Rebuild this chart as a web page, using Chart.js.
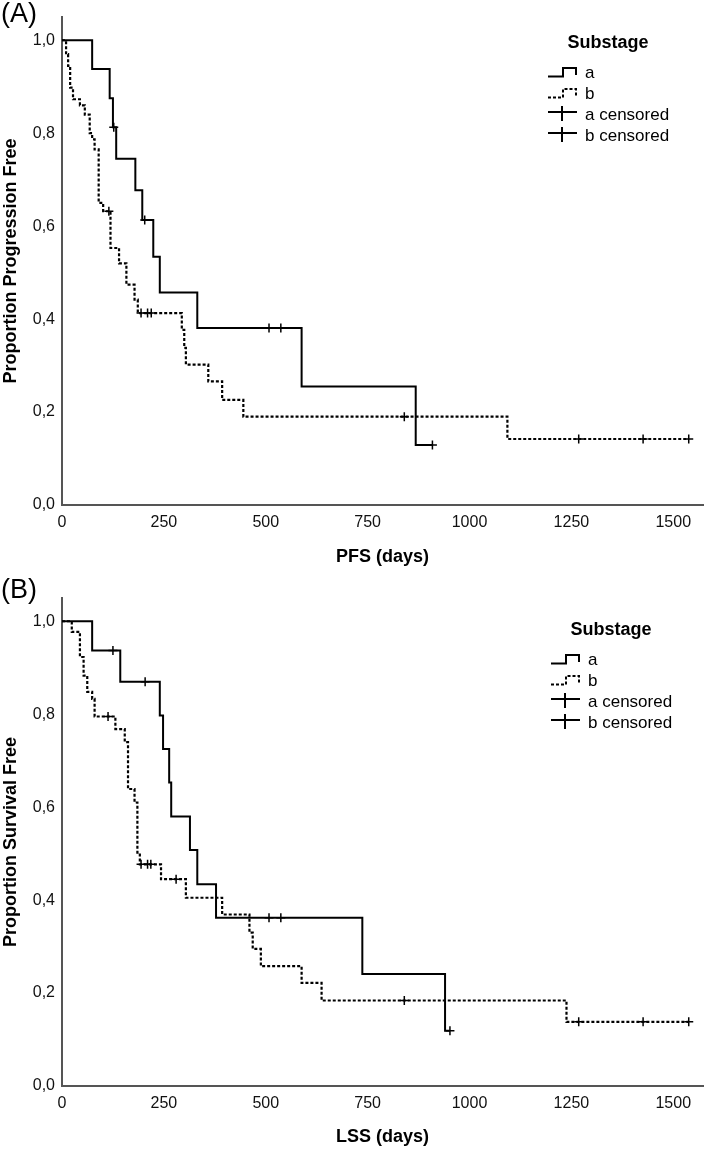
<!DOCTYPE html>
<html>
<head>
<meta charset="utf-8">
<title>Substage - PFS / LSS</title>
<script src="https://cdn.jsdelivr.net/npm/chart.js@4.4.1/dist/chart.umd.min.js"></script>
<style>
  html, body { margin: 0; padding: 0; background: #fff; overflow: hidden; }
  .panel { position: relative; width: 709px; height: 575px; }
  canvas { display: block; }
</style>
</head>
<body>
<div class="panel"><canvas id="chartA" width="709" height="575"></canvas></div>
<div class="panel"><canvas id="chartB" width="709" height="575"></canvas></div>
<script>
// (A) PFS - step points (day, proportion) and censored days
var pfsDaysA = [0, 74, 117, 125, 133, 180, 197, 224, 240, 332, 588, 868, 909];
var pfsSurvA = [1.0, 0.938, 0.875, 0.813, 0.745, 0.677, 0.613, 0.534, 0.457, 0.381, 0.255, 0.129, 0.129];
var pfsCensA = [127, 203, 508, 537, 909];

var pfsDaysB = [0, 10, 15, 20, 27, 44, 56, 68, 74, 80, 90, 101, 119, 140, 158, 178, 186, 294, 300, 304, 359, 393, 445, 1093, 1538];
var pfsSurvB = [1.0, 0.97, 0.945, 0.898, 0.873, 0.86, 0.84, 0.80, 0.787, 0.765, 0.65, 0.632, 0.553, 0.52, 0.474, 0.442, 0.413, 0.377, 0.338, 0.302, 0.266, 0.226, 0.19, 0.142, 0.142];
var pfsCensB = [115, 194, 210, 219, 840, 1268, 1426, 1538];

// (B) LSS
var lssDaysA = [0, 74, 143, 240, 248, 263, 268, 314, 332, 378, 737, 940, 952];
var lssSurvA = [1.0, 0.937, 0.870, 0.797, 0.725, 0.653, 0.58, 0.508, 0.434, 0.362, 0.241, 0.119, 0.119];
var lssCensA = [125, 204, 508, 537, 952];

var lssDaysB = [0, 24, 44, 53, 62, 74, 80, 131, 154, 162, 178, 185, 191, 243, 304, 393, 460, 468, 488, 588, 637, 1238, 1538];
var lssSurvB = [1.0, 0.977, 0.923, 0.883, 0.848, 0.833, 0.795, 0.768, 0.740, 0.639, 0.610, 0.502, 0.477, 0.445, 0.405, 0.369, 0.33, 0.295, 0.258, 0.222, 0.184, 0.138, 0.138];
var lssCensB = [113, 194, 210, 218, 280, 840, 1268, 1426, 1538];

var xTicks = [0, 250, 500, 750, 1000, 1250, 1500];
var yTicks = [0, 0.2, 0.4, 0.6, 0.8, 1.0];
var legendLabels = ['a', 'b', 'a censored', 'b censored'];

var FONT = '"Liberation Sans", Arial, Helvetica, sans-serif';

function survAt(days, surv, t) {
    var v = surv[0];
    for (var i = 0; i < days.length; i++) {
        if (days[i] <= t) v = surv[i];
    }
    return v;
}

function stepSet(days, surv, dashed) {
    return {
        data: days.map(function(d, i) { return {x: d, y: surv[i]}; }),
        stepped: true,
        borderColor: '#000',
        borderWidth: dashed ? 2.2 : 2,
        borderDash: dashed ? [3, 2] : [],
        pointRadius: 0,
        fill: false
    };
}

function censorSet(times, days, surv) {
    return {
        data: times.map(function(t) { return {x: t, y: survAt(days, surv, t)}; }),
        showLine: false,
        pointStyle: 'cross',
        pointRadius: 4.5,
        borderColor: '#000',
        borderWidth: 1.5
    };
}

// panel letter + the "Substage" legend inside the plot
var kmDecor = {
    id: 'kmDecor',
    afterDraw: function(chart, args, o) {
        var ctx = chart.ctx;
        ctx.save();
        ctx.fillStyle = '#000';
        ctx.strokeStyle = '#000';
        ctx.font = '27px ' + FONT;
        ctx.textAlign = 'left';
        ctx.textBaseline = 'alphabetic';
        ctx.fillText(o.panel, 1, o.panelY);

        ctx.font = 'bold 18px ' + FONT;
        ctx.textAlign = 'center';
        ctx.textBaseline = 'middle';
        ctx.fillText('Substage', o.titleX, o.titleY);

        ctx.font = '17px ' + FONT;
        ctx.textAlign = 'left';
        ctx.lineWidth = 2;
        var x0 = o.x;
        legendLabels.forEach(function(lbl, i) {
            var cy = o.titleY + 30 + i * 21;
            ctx.setLineDash(i == 1 ? [3, 2] : []);
            ctx.beginPath();
            if (i < 2) {
                ctx.moveTo(x0, cy + 3.5);
                ctx.lineTo(x0 + 15, cy + 3.5);
                ctx.lineTo(x0 + 15, cy - 5);
                ctx.lineTo(x0 + 28, cy - 5);
                ctx.lineTo(x0 + 28, cy + 2);
            } else {
                ctx.moveTo(x0, cy - 3);
                ctx.lineTo(x0 + 29, cy - 3);
                ctx.moveTo(x0 + 14, cy - 9);
                ctx.lineTo(x0 + 14, cy + 6);
            }
            ctx.stroke();
            ctx.setLineDash([]);
            ctx.fillText(lbl, x0 + 37, cy);
        });
        ctx.restore();
    }
};

function makeChart(id, cfg) {
    return new Chart(document.getElementById(id), {
        type: 'line',
        data: {
            datasets: [
                stepSet(cfg.daysA, cfg.survA, false),
                stepSet(cfg.daysB, cfg.survB, true),
                censorSet(cfg.censA, cfg.daysA, cfg.survA),
                censorSet(cfg.censB, cfg.daysB, cfg.survB)
            ]
        },
        plugins: [kmDecor],
        options: {
            responsive: false,
            animation: false,
            events: [],
            layout: { padding: { top: cfg.top, right: 2, left: 0, bottom: 0 } },
            plugins: {
                legend: { display: false },
                tooltip: { enabled: false },
                kmDecor: cfg.decor
            },
            scales: {
                x: {
                    type: 'linear',
                    min: 0,
                    max: 1573,
                    grid: { display: false, drawTicks: false },
                    border: { display: true, color: '#555', width: 2 },
                    afterBuildTicks: function(s) {
                        s.ticks = xTicks.map(function(v) { return {value: v}; });
                    },
                    afterFit: function(s) { s.height = cfg.xHeight; },
                    ticks: {
                        padding: 8,
                        color: '#111',
                        font: { family: FONT, size: 16 },
                        callback: function(v) { return String(v); }
                    },
                    title: {
                        display: true,
                        text: cfg.xTitle,
                        color: '#000',
                        font: { family: FONT, size: 18, weight: 'bold' },
                        padding: { top: 0, bottom: cfg.xTitlePad }
                    }
                },
                y: {
                    min: 0,
                    max: 1.05,
                    grid: { display: false, drawTicks: false },
                    border: { display: true, color: '#555', width: 2 },
                    afterBuildTicks: function(s) {
                        s.ticks = yTicks.map(function(v) { return {value: v}; });
                    },
                    afterFit: function(s) { s.width = 62; },
                    ticks: {
                        padding: 7,
                        color: '#111',
                        font: { family: FONT, size: 16 },
                        callback: function(v) { return v.toFixed(1).replace('.', ','); }
                    },
                    title: {
                        display: true,
                        text: cfg.yTitle,
                        color: '#000',
                        font: { family: FONT, size: 18, weight: 'bold' },
                        padding: { top: 0, bottom: 0 }
                    }
                }
            }
        }
    });
}

makeChart('chartA', {
    daysA: pfsDaysA, survA: pfsSurvA, censA: pfsCensA,
    daysB: pfsDaysB, survB: pfsSurvB, censB: pfsCensB,
    top: 17, xHeight: 70, xTitlePad: 7,
    xTitle: 'PFS (days)',
    yTitle: 'Proportion Progression Free',
    decor: { panel: '(A)', panelY: 22, x: 548, titleX: 608, titleY: 43 }
});

makeChart('chartB', {
    daysA: lssDaysA, survA: lssSurvA, censA: lssCensA,
    daysB: lssDaysB, survB: lssSurvB, censB: lssCensB,
    top: 23, xHeight: 64, xTitlePad: 2,
    xTitle: 'LSS (days)',
    yTitle: 'Proportion Survival Free',
    decor: { panel: '(B)', panelY: 23, x: 551, titleX: 611, titleY: 55 }
});
</script>
</body>
</html>
